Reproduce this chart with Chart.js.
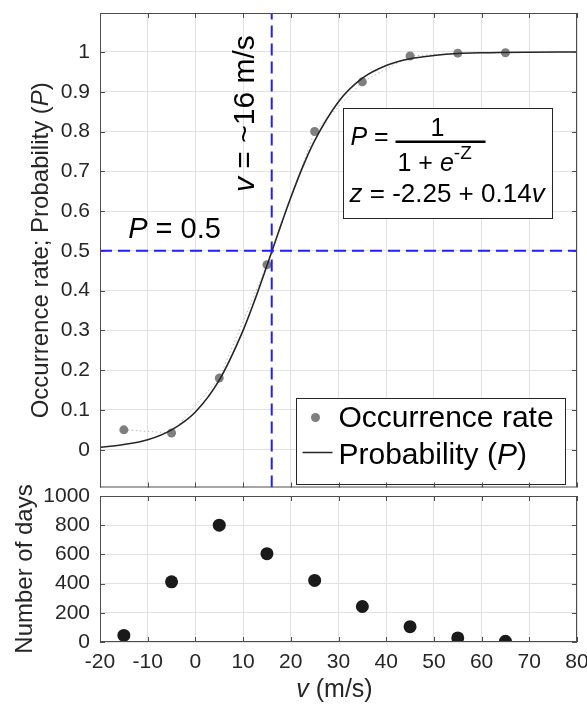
<!DOCTYPE html>
<html>
<head>
<meta charset="utf-8">
<script src="https://cdn.jsdelivr.net/npm/chart.js@4.4.0/dist/chart.umd.min.js"></script>
<style>
  html, body { margin: 0; padding: 0; background: #fff; }
  #wrap { position: relative; width: 587px; height: 707px; }
  #topCanvas { position: absolute; left: 0; top: 0; }
  #botCanvas { position: absolute; left: 0; top: 470px; }
</style>
</head>
<body>
<div id="wrap">
  <canvas id="topCanvas" width="587" height="492"></canvas>
  <canvas id="botCanvas" width="587" height="237"></canvas>
</div>
<script>
// ---- data ----
const binV = [-15, -5, 5, 15, 25, 35, 45, 55, 65];           // wind speed bin centres (m/s)
const occRate = [0.05, 0.042, 0.18, 0.465, 0.80, 0.925, 0.99, 0.997, 0.998];
const days = [45, 412, 800, 605, 422, 243, 105, 28, 5];

// fitted curve, sampled from the plot
const curveV = [-20, -15, -10, -5, 0, 5, 10, 12.5, 15, 17.5, 20, 22.5, 25, 30, 35, 40, 45, 50, 55, 60, 70, 80];
const curveP = [0.006, 0.013, 0.025, 0.05, 0.095, 0.175, 0.30, 0.378, 0.463, 0.55, 0.634, 0.711, 0.777, 0.875, 0.934, 0.966, 0.983, 0.991, 0.996, 0.998, 0.9995, 0.9999];

const xTicks = [-20, -10, 0, 10, 20, 30, 40, 50, 60, 70, 80];
const yTicksTop = [0, 0.1, 0.2, 0.3, 0.4, 0.5, 0.6, 0.7, 0.8, 0.9, 1];
const yTicksBot = [0, 200, 400, 600, 800, 1000];

const vCrit = 16;     // dashed vertical line
const pCrit = 0.5;    // dashed horizontal line

const X_MIN = -20, X_MAX = 80;
const Y_MIN_TOP = -0.095, Y_MAX_TOP = 1.098;

const FAM = "'Liberation Sans', Arial, Helvetica, sans-serif";
const TXT = '#262626';
const BLUE = '#2020f5';
const GRID = '#e2e2e2';
const AXIS = '#4d4d4d';

Chart.defaults.font.family = FAM;
Chart.defaults.font.size = 21;
Chart.defaults.color = TXT;

// 2. Helpers for mixed italic / upright text
function fontFor(p, size) {
    return (p.i ? 'italic ' : '') + (p.s || size) + 'px ' + FAM;
}
function richWidth(ctx, parts, size) {
    let w = 0;
    parts.forEach(p => { ctx.font = fontFor(p, size); w += ctx.measureText(p.t).width; });
    return w;
}
function drawRich(ctx, parts, x, y, size, align) {
    let cx = align === 'center' ? x - richWidth(ctx, parts, size) / 2 : x;
    ctx.textAlign = 'left';
    ctx.textBaseline = 'alphabetic';
    parts.forEach(p => {
        ctx.font = fontFor(p, size);
        ctx.fillText(p.t, cx, y + (p.dy || 0));
        cx += ctx.measureText(p.t).width;
    });
}

function setTicks(list) {
    return scale => { scale.ticks = list.map(v => ({ value: v })); };
}
// fixed axis size, no extra label padding pushed into the layout
function fixSize(w, h) {
    return s => {
        if (w !== null) s.width = w;
        if (h !== null) s.height = h;
        s.paddingTop = 0; s.paddingBottom = 0; s.paddingLeft = 0; s.paddingRight = 0;
    };
}

// box with inward ticks (MATLAB style)
const boxPlugin = {
    id: 'boxTicks',
    afterDraw(chart) {
        const { ctx, chartArea: a, scales } = chart;
        const L = 5;
        ctx.save();
        ctx.strokeStyle = AXIS;
        ctx.lineWidth = 1;
        ctx.strokeRect(a.left + 0.5, a.top + 0.5, a.right - a.left - 1, a.bottom - a.top - 1);
        ctx.beginPath();
        scales.x.ticks.forEach(t => {
            const px = Math.round(scales.x.getPixelForValue(t.value)) + 0.5;
            ctx.moveTo(px, a.bottom); ctx.lineTo(px, a.bottom - L);
            ctx.moveTo(px, a.top); ctx.lineTo(px, a.top + L);
        });
        scales.y.ticks.forEach(t => {
            const py = Math.round(scales.y.getPixelForValue(t.value)) + 0.5;
            ctx.moveTo(a.left, py); ctx.lineTo(a.left + L, py);
            ctx.moveTo(a.right, py); ctx.lineTo(a.right - L, py);
        });
        ctx.stroke();
        ctx.restore();
    }
};

// annotations, equation box and legend of the top panel
const topAnnot = {
    id: 'topAnnot',
    afterDatasetsDraw(chart) {
        const { ctx, chartArea: a, scales } = chart;
        const xs = scales.x, ys = scales.y;
        ctx.save();
        ctx.fillStyle = '#000';

        // P = 0.5
        drawRich(ctx, [{ t: 'P', i: true }, { t: ' = 0.5' }], xs.getPixelForValue(-14.1), ys.getPixelForValue(0.533), 29);

        // v = ~16 m/s (rotated)
        ctx.save();
        ctx.translate(xs.getPixelForValue(12.3), ys.getPixelForValue(0.648));
        ctx.rotate(-Math.PI / 2);
        drawRich(ctx, [{ t: 'v', i: true }, { t: ' = ~16 m/s' }], 0, 0, 30);
        ctx.restore();

        // equation box
        const bx = Math.round(xs.getPixelForValue(30.9)) + 0.5;
        const by = Math.round(ys.getPixelForValue(0.859)) + 0.5;
        const bx2 = Math.round(xs.getPixelForValue(74.8)) + 0.5;
        const by2 = Math.round(ys.getPixelForValue(0.583)) + 0.5;
        ctx.fillStyle = '#fff';
        ctx.fillRect(bx, by, bx2 - bx, by2 - by);
        ctx.strokeStyle = '#262626';
        ctx.lineWidth = 1;
        ctx.strokeRect(bx, by, bx2 - bx, by2 - by);
        ctx.fillStyle = '#000';
        drawRich(ctx, [{ t: 'P', i: true }, { t: ' =' }], bx + 7, by + 36, 25);
        drawRich(ctx, [{ t: '1' }], bx + 94, by + 27, 25, 'center');
        ctx.fillRect(bx + 52, by + 32, 90, 2.5);
        drawRich(ctx, [{ t: '1 + ' }, { t: 'e', i: true }, { t: '-Z', s: 19, dy: -12 }], bx + 54, by + 62, 25);
        drawRich(ctx, [{ t: 'z', i: true }, { t: ' = -2.25 + 0.14' }, { t: 'v', i: true }], bx + 6, by + 93, 26);

        // legend
        const lx = Math.round(a.right - 281) + 0.5;
        const ly = Math.round(a.bottom - 90) + 0.5;
        ctx.fillStyle = '#fff';
        ctx.fillRect(lx, ly, 269, 86);
        ctx.strokeStyle = '#262626';
        ctx.strokeRect(lx, ly, 269, 86);
        ctx.fillStyle = '#7f7f7f';
        ctx.beginPath();
        ctx.arc(lx + 19, ly + 19, 4.5, 0, Math.PI * 2);
        ctx.fill();
        ctx.strokeStyle = '#262626';
        ctx.lineWidth = 1.5;
        ctx.beginPath();
        ctx.moveTo(lx + 6, ly + 54); ctx.lineTo(lx + 36, ly + 54);
        ctx.stroke();
        ctx.fillStyle = '#000';
        drawRich(ctx, [{ t: 'Occurrence rate' }], lx + 42, ly + 28, 30);
        drawRich(ctx, [{ t: 'Probability (' }, { t: 'P', i: true }, { t: ')' }], lx + 42, ly + 65, 30);

        // y axis title
        ctx.fillStyle = TXT;
        ctx.translate(a.left - 52, (a.top + a.bottom) / 2);
        ctx.rotate(-Math.PI / 2);
        drawRich(ctx, [{ t: 'Occurrence rate; Probability (' }, { t: 'P', i: true }, { t: ')' }], 0, 0, 24, 'center');
        ctx.restore();
    }
};

const botAnnot = {
    id: 'botAnnot',
    afterDraw(chart) {
        const { ctx, chartArea: a } = chart;
        ctx.save();
        ctx.fillStyle = TXT;
        drawRich(ctx, [{ t: 'v', i: true }, { t: ' (m/s)' }], (a.left + a.right) / 2 - 4, a.bottom + 55, 25, 'center');
        ctx.translate(a.left - 68, (a.top + a.bottom) / 2);
        ctx.rotate(-Math.PI / 2);
        drawRich(ctx, [{ t: 'Number of days' }], 0, 0, 24, 'center');
        ctx.restore();
    }
};

// 3. Top panel
new Chart(document.getElementById('topCanvas'), {
    type: 'line',
    data: {
        datasets: [
            {
                data: [{ x: vCrit, y: Y_MIN_TOP }, { x: vCrit, y: Y_MAX_TOP }],
                borderColor: BLUE, borderWidth: 2, borderDash: [12, 6], pointRadius: 0, order: 0
            },
            {
                data: [{ x: X_MIN, y: pCrit }, { x: X_MAX, y: pCrit }],
                borderColor: BLUE, borderWidth: 2, borderDash: [12, 6], pointRadius: 0, order: 0
            },
            {
                data: curveV.map((v, i) => ({ x: v, y: curveP[i] })),
                borderColor: '#262626', borderWidth: 1.6, pointRadius: 0,
                cubicInterpolationMode: 'monotone', order: 1
            },
            {
                data: binV.map((v, i) => ({ x: v, y: occRate[i] })),
                borderColor: '#b5b5b5', borderWidth: 1, borderDash: [1.5, 2.5],
                pointRadius: 4.5, pointBackgroundColor: '#7f7f7f', pointBorderWidth: 0, order: 2
            }
        ]
    },
    options: {
        responsive: false,
        animation: false,
        layout: { padding: { top: 13, right: 10, bottom: 4, left: 0 } },
        plugins: { legend: { display: false }, tooltip: { enabled: false } },
        scales: {
            x: {
                type: 'linear', min: X_MIN, max: X_MAX,
                afterBuildTicks: setTicks(xTicks),
                afterFit: fixSize(null, 0),
                ticks: { display: false, autoSkip: false },
                grid: { color: GRID, drawTicks: false },
                border: { display: false }
            },
            y: {
                type: 'linear', min: Y_MIN_TOP, max: Y_MAX_TOP,
                afterBuildTicks: setTicks(yTicksTop),
                afterFit: fixSize(100, null),
                ticks: { padding: 10, autoSkip: false, callback: v => String(v) },
                grid: { color: GRID, drawTicks: false },
                border: { display: false }
            }
        }
    },
    plugins: [topAnnot, boxPlugin]
});

// 4. Bottom panel
new Chart(document.getElementById('botCanvas'), {
    type: 'scatter',
    data: {
        datasets: [{
            data: binV.map((v, i) => ({ x: v, y: days[i] })),
            pointRadius: 6.5, pointBackgroundColor: '#1a1a1a', pointBorderWidth: 0
        }]
    },
    options: {
        responsive: false,
        animation: false,
        layout: { padding: { top: 26, right: 10, bottom: 0, left: 0 } },
        plugins: { legend: { display: false }, tooltip: { enabled: false } },
        scales: {
            x: {
                type: 'linear', min: X_MIN, max: X_MAX,
                afterBuildTicks: setTicks(xTicks),
                afterFit: fixSize(null, 65),
                ticks: { padding: 8, autoSkip: false, maxRotation: 0, callback: v => String(v) },
                grid: { color: GRID, drawTicks: false },
                border: { display: false }
            },
            y: {
                type: 'linear', min: 0, max: 1000,
                afterBuildTicks: setTicks(yTicksBot),
                afterFit: fixSize(100, null),
                ticks: { padding: 10, autoSkip: false, callback: v => String(v) },
                grid: { color: GRID, drawTicks: false },
                border: { display: false }
            }
        }
    },
    plugins: [botAnnot, boxPlugin]
});
</script>
</body>
</html>
